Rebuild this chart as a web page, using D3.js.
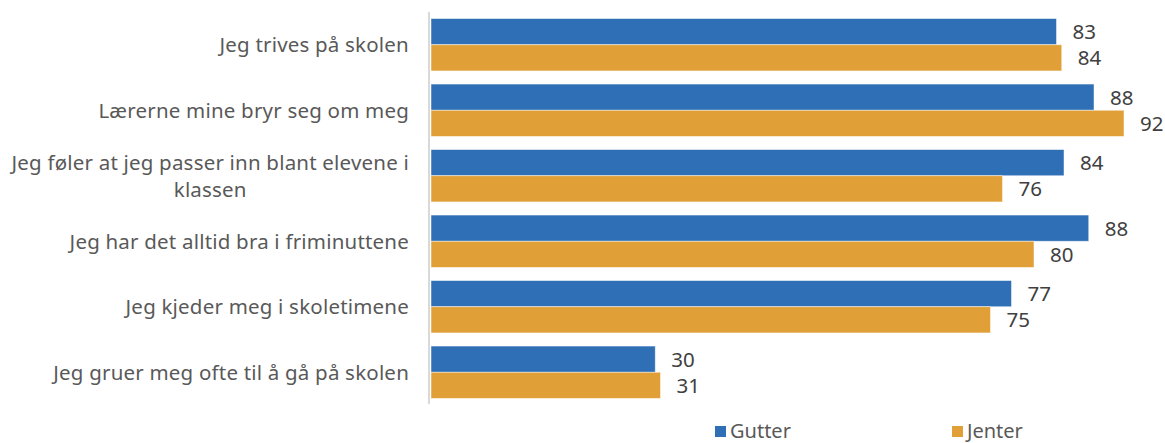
<!DOCTYPE html>
<html>
<head>
<meta charset="utf-8">
<script src="https://cdn.jsdelivr.net/npm/d3@7"></script>
<style>
  body { margin: 0; background: #fff; }
  svg { display: block; font-family: "Noto Sans", sans-serif; }
</style>
</head>
<body>
<svg id="chart" width="1165" height="443"></svg>
<script>
var categories = [
  'Jeg trives på skolen',
  'Lærerne mine bryr seg om meg',
  'Jeg føler at jeg passer inn blant elevene i klassen',
  'Jeg har det alltid bra i friminuttene',
  'Jeg kjeder meg i skoletimene',
  'Jeg gruer meg ofte til å gå på skolen'
];
var seriesNames = ['Gutter', 'Jenter'];
var gutter = [83.4, 88.4, 84.4, 87.7, 77.4, 29.9];
var jenter = [84.1, 92.4, 76.2, 80.4, 74.6, 30.6];
var colors = ['#2e6fb5', '#e09f37'];

var svg = d3.select('#chart');
var WIDTH = 1165, HEIGHT = 443;

var x = d3.scaleLinear().domain([0, 100]).range([431, 1181]);
var y = d3.scaleBand().domain(categories).range([12, 405])
  .paddingInner(0.2).paddingOuter(0.1);
var ySub = d3.scaleBand().domain(seriesNames).range([0, y.bandwidth()]);

var rows = categories.map(function(c, i) {
  return { cat: c, vals: [gutter[i], jenter[i]] };
});

var groups = svg.selectAll('g.row')
  .data(rows)
  .enter()
  .append('g')
    .attr('class', 'row')
    .attr('transform', function(d) { return 'translate(0,' + y(d.cat) + ')'; });

groups.selectAll('rect')
  .data(function(d) { return d.vals.map(function(v, j) { return { v: v, s: seriesNames[j], j: j }; }); })
  .enter()
  .append('rect')
    .attr('x', x(0))
    .attr('y', function(d) { return ySub(d.s); })
    .attr('width', function(d) { return x(d.v) - x(0); })
    .attr('height', ySub.bandwidth())
    .style('fill', function(d) { return colors[d.j]; })
    .style('stroke', 'rgba(255,255,255,0.6)')
    .style('stroke-width', 0.8);

// value labels
groups.selectAll('text.val')
  .data(function(d) { return d.vals.map(function(v, j) { return { v: v, s: seriesNames[j] }; }); })
  .enter()
  .append('text')
    .attr('class', 'val')
    .attr('x', function(d) { return x(d.v) + 16; })
    .attr('y', function(d) { return ySub(d.s) + ySub.bandwidth() / 2; })
    .attr('dy', '0.36em')
    .style('font-size', '20.5px')
    .style('fill', '#404040')
    .text(function(d) { return Math.round(d.v); });

// vertical axis line
svg.append('line')
  .attr('x1', 429).attr('x2', 429)
  .attr('y1', y.range()[0]).attr('y2', y.range()[1] - 1)
  .attr('stroke', '#d9d9d9')
  .attr('stroke-width', 2);

// category labels, wrapped
var yAxis = svg.append('g')
  .attr('transform', 'translate(409,0)');
yAxis.selectAll('text')
  .data(categories)
  .enter()
  .append('text')
    .attr('y', function(d) { return y(d) + y.bandwidth() / 2; })
    .style('font-size', '20.5px')
    .style('letter-spacing', '0.2px')
    .style('fill', '#595959')
    .style('text-anchor', 'end')
    .each(function(d) {
      var t = d3.select(this);
      var words = d.split(' '), lines = [], line = [];
      var probe = t.append('tspan');
      words.forEach(function(w) {
        line.push(w);
        probe.text(line.join(' '));
        if (probe.node().getComputedTextLength() > 415 && line.length > 1) {
          line.pop();
          lines.push(line.join(' '));
          line = [w];
        }
      });
      lines.push(line.join(' '));
      probe.remove();
      var lh = 27;
      var off = -(lines.length - 1) * lh / 2;
      lines.forEach(function(l, k) {
        t.append('tspan')
          .attr('x', 0)
          .attr('y', y(d) + y.bandwidth() / 2 + off + k * lh)
          .attr('dy', '0.36em')
          .text(l);
      });
      // center wrapped lines on the widest line
      if (lines.length > 1) {
        var spans = t.selectAll('tspan').nodes();
        var wmax = d3.max(spans, function(s) { return s.getComputedTextLength(); });
        spans.forEach(function(s) {
          d3.select(s)
            .attr('x', -(wmax - s.getComputedTextLength()) / 2);
        });
      }
    });

// legend
var legend = svg.append('g');
var legX = [715, 952];
seriesNames.forEach(function(s, i) {
  legend.append('rect')
    .attr('x', legX[i]).attr('y', 426)
    .attr('width', 11).attr('height', 11)
    .style('fill', colors[i]);
  legend.append('text')
    .attr('x', legX[i] + 15).attr('y', 438)
    .style('font-size', '20px')
    .style('fill', '#595959')
    .text(s);
});
</script>
</body>
</html>
